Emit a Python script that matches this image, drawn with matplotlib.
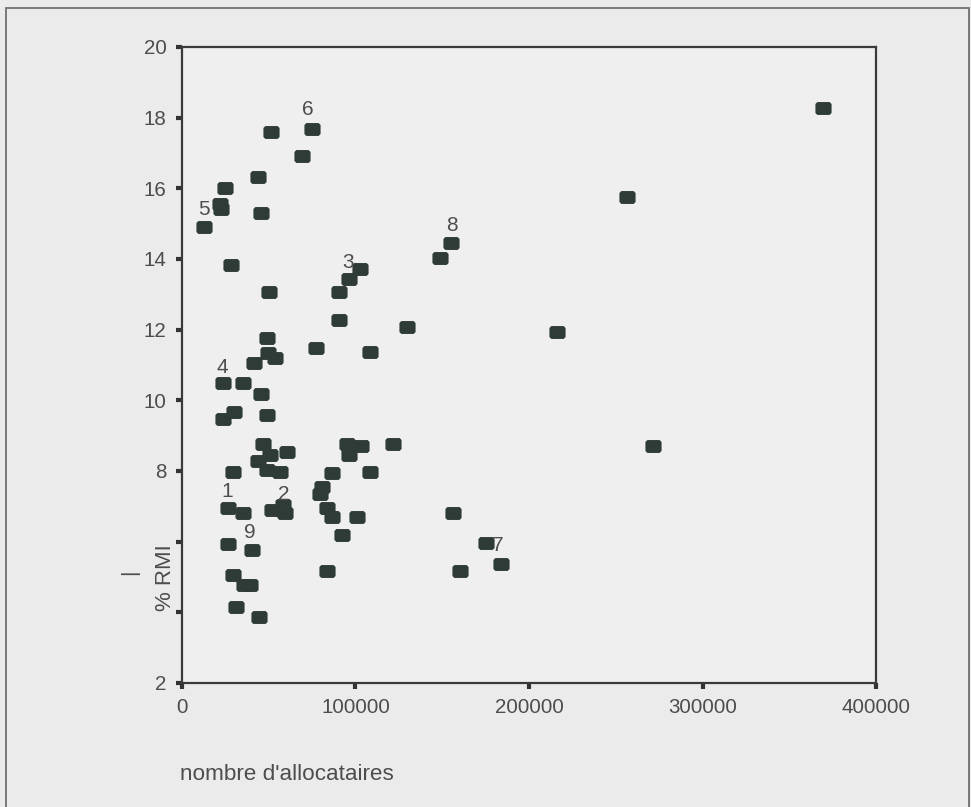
import numpy as np
import matplotlib
matplotlib.use('Agg')
import matplotlib.pyplot as plt
from matplotlib.path import Path
from matplotlib.patches import Rectangle

plt.rcParams['font.family'] = ['Liberation Sans', 'DejaVu Sans']

# nombre d'allocataires / % RMI par departement
allocataires = [369500, 256500, 216100, 271500, 156200, 175200, 183900, 160500, 83600,
                51300, 74900, 69200, 43800, 24800, 21900, 22300, 45500, 12700, 28200,
                50100, 90500, 90500, 49000, 77200, 49600, 53600, 41500, 23600, 35200,
                45500, 30000, 23600, 49000, 46700, 60500, 50700, 43800, 49000, 56500,
                29400, 95100, 103100, 96300, 121600, 108400, 86500, 80500, 79500, 83600,
                86500, 100900, 92200, 26500, 35200, 51900, 58200, 59400, 26500, 40300,
                29400, 35500, 39000, 31100, 44400, 102600, 96300, 129700, 108400, 155000,
                148700]
pct_rmi = [18.27, 15.75, 11.93, 8.71, 6.81, 5.96, 5.37, 5.17, 5.17,
           17.59, 17.68, 16.91, 16.32, 16.01, 15.55, 15.40, 15.30, 14.90, 13.83,
           13.07, 13.07, 12.27, 11.76, 11.48, 11.34, 11.20, 11.06, 10.49, 10.49,
           10.18, 9.67, 9.47, 9.58, 8.76, 8.54, 8.45, 8.28, 8.03, 7.97,
           7.97, 8.76, 8.70, 8.45, 8.76, 7.97, 7.94, 7.55, 7.35, 6.95,
           6.70, 6.70, 6.19, 6.95, 6.81, 6.90, 7.04, 6.81, 5.93, 5.76,
           5.05, 4.77, 4.77, 4.15, 3.87, 13.72, 13.43, 12.07, 11.37, 14.45,
           14.03]

# numbered points
label_text = ['1', '2', '3', '4', '5', '6', '7', '8', '9']
label_x = [26200, 58800, 95700, 23000, 12700, 72600, 182100, 155600, 39200]
label_y = [7.43, 7.32, 13.91, 10.94, 15.39, 18.22, 5.90, 14.96, 6.27]

y_ticks = [2, 4, 6, 8, 10, 12, 14, 16, 18, 20]
y_ticklabels = ['2', '', '', '8', '10', '12', '14', '16', '18', '20']
x_ticks = [0, 100000, 200000, 300000, 400000]

bg = '#ebebeb'
txt = '#4d4d4d'
mark = '#2e3b37'

fig = plt.figure(figsize=(9.71, 8.07), dpi=100)
fig.patch.set_facecolor(bg)

# outer frame
fig.patches.append(Rectangle((0.006, -0.05), 0.992, 1.04, transform=fig.transFigure,
                             fill=False, edgecolor='#707070', linewidth=1.3))

ax = fig.add_axes([0.1874, 0.1537, 0.7148, 0.7881])
ax.set_facecolor('#efefef')

# rounded-rectangle marker
w, h, c = 1.25, 1.0, 0.3
verts = [(-w, -h + c), (-w + c, -h), (w - c, -h), (w, -h + c),
         (w, h - c), (w - c, h), (-w + c, h), (-w, h - c), (-w, -h + c)]
rrect = Path(verts, closed=True)

ax.scatter(allocataires, pct_rmi, marker=rrect, s=135, color=mark, linewidths=0, zorder=3)

for t, lx, ly in zip(label_text, label_x, label_y):
    ax.text(lx, ly, t, fontsize=15, color=txt, ha='center', va='center', zorder=4)

ax.set_xlim(0, 400000)
ax.set_ylim(2, 20)
ax.set_xticks(x_ticks)
ax.set_xticklabels([str(v) for v in x_ticks])
ax.set_yticks(y_ticks)
ax.set_yticklabels(y_ticklabels)
ax.tick_params(axis='both', direction='out', length=4, width=3, color='#333333',
               labelsize=14.8, labelcolor=txt, pad=7)

for s in ax.spines.values():
    s.set_color('#3a3a3a')
    s.set_linewidth(1.6)

# axis titles
fig.text(0.1854, 0.040, "nombre d'allocataires", fontsize=16.2, color=txt,
         ha='left', va='center')
fig.text(0.170, 0.284, '% RMI', fontsize=16, color=txt, rotation=90,
         ha='center', va='center')
fig.text(0.134, 0.291, '|', fontsize=15, color=txt, rotation=90,
         ha='center', va='center')

plt.savefig('out.png', dpi=100, facecolor=fig.get_facecolor())
